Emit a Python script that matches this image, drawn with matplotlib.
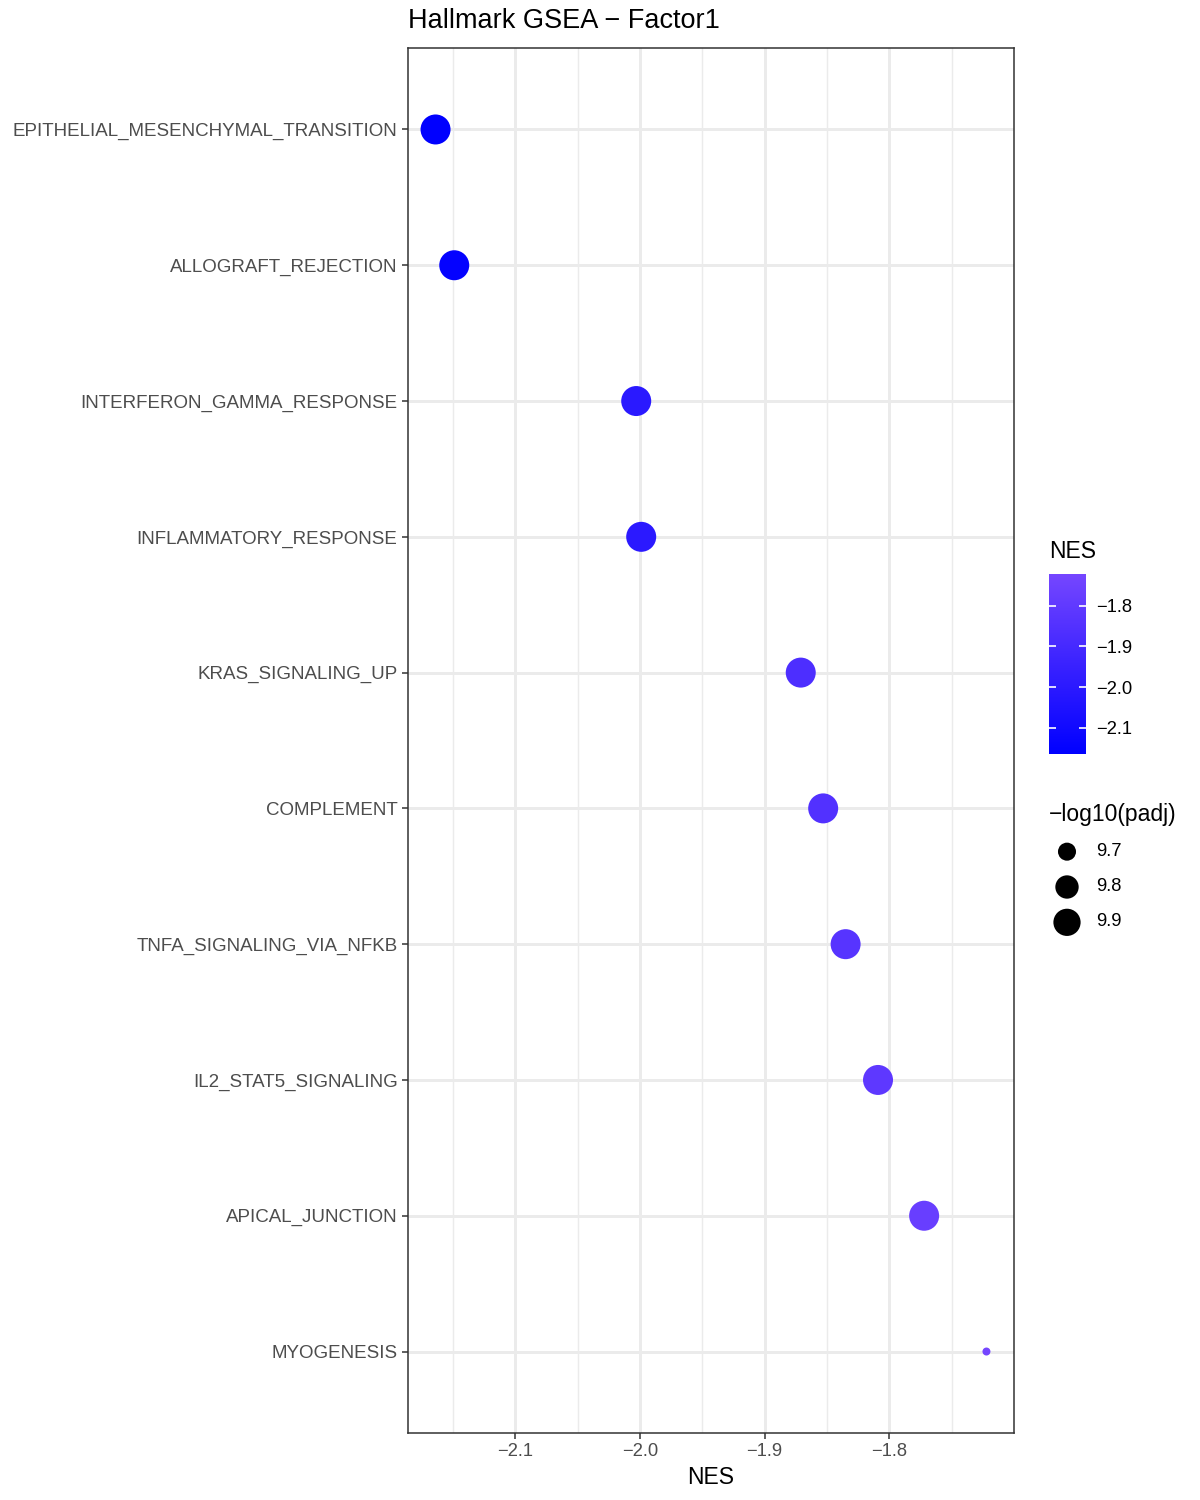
import numpy as np
import matplotlib; matplotlib.use('Agg')
import matplotlib.pyplot as plt
from matplotlib.colors import LinearSegmentedColormap, Normalize
from matplotlib.cm import ScalarMappable

plt.rcParams['font.family'] = ['Liberation Sans', 'DejaVu Sans']

# data, top to bottom
pathways = ['EPITHELIAL_MESENCHYMAL_TRANSITION', 'ALLOGRAFT_REJECTION',
            'INTERFERON_GAMMA_RESPONSE', 'INFLAMMATORY_RESPONSE',
            'KRAS_SIGNALING_UP', 'COMPLEMENT', 'TNFA_SIGNALING_VIA_NFKB',
            'IL2_STAT5_SIGNALING', 'APICAL_JUNCTION', 'MYOGENESIS']
nes = [-2.164, -2.149, -2.003, -1.999, -1.871, -1.853, -1.835, -1.809, -1.772, -1.722]
neglog_padj = [9.985, 9.985, 9.985, 9.985, 9.985, 9.985, 9.985, 9.985, 9.985, 9.625]
size_breaks = [9.7, 9.8, 9.9]
nes_ticks = [-2.1, -2.0, -1.9, -1.8]

W, H = 1200, 1500
fig = plt.figure(figsize=(12, 15), dpi=100)

def fx(x):
    return x / W

def fy(y):
    return 1 - y / H

nes = np.array(nes)
pv = np.array(neglog_padj)
smin, smax = pv.min(), pv.max()

# ggplot-like area scale: size 1..6 -> marker diameter in px
def diam_px(v):
    t = np.clip((np.asarray(v) - smin) / (smax - smin), 0, 1)
    size = 1 + 5 * np.sqrt(t)
    return 4.4 * size + 3.6

def s_of(v):
    return (diam_px(v) * 0.72) ** 2

cmap = LinearSegmentedColormap.from_list('nes', ['#0000FF', '#3A22FF', '#7546FF'])
norm = Normalize(vmin=nes.min(), vmax=nes.max())

ax = fig.add_axes([fx(408), fy(1433), fx(1014 - 408), (1433 - 48) / H])
ypos = np.arange(len(pathways))
xr = nes.max() - nes.min()
ax.set_xlim(nes.min() - 0.05 * xr, nes.max() + 0.05 * xr)
ax.set_ylim(len(pathways) - 1 + 0.6, -0.6)

# grid
for v in nes_ticks:
    ax.axvline(v, color='#EBEBEB', lw=2.1, zorder=0)
for v in [-2.15, -2.05, -1.95, -1.85, -1.75]:
    ax.axvline(v, color='#EBEBEB', lw=1.05, zorder=0)
for y in ypos:
    ax.axhline(y, color='#EBEBEB', lw=2.1, zorder=0)

ax.scatter(nes, ypos, s=s_of(pv), c=nes, cmap=cmap, norm=norm, linewidths=0, zorder=3)

ax.set_yticks(ypos)
ax.set_yticklabels(pathways)
ax.set_xticks(nes_ticks)
ax.set_xticklabels([f'{v:.1f}'.replace('-', '\u2212') for v in nes_ticks])
ax.tick_params(axis='both', labelsize=13.2, labelcolor='#4D4D4D', color='#333333',
               length=4, width=1.1, pad=3.5)
ax.tick_params(axis='y', labelsize=13.5)
for sp in ax.spines.values():
    sp.set_color('#333333')
    sp.set_linewidth(1.1)
ax.set_xlabel('NES', fontsize=16.5, labelpad=4)

fig.text(fx(408), fy(21), 'Hallmark GSEA \u2212 Factor1', fontsize=19.5, va='center', ha='left')

# colour bar
cax = fig.add_axes([fx(1049), fy(754), fx(1086 - 1049), (754 - 574) / H])
cb = fig.colorbar(ScalarMappable(norm=norm, cmap=cmap), cax=cax)
cb.outline.set_visible(False)
cb.set_ticks(nes_ticks)
cb.set_ticklabels([f'{v:.1f}'.replace('-', '\u2212') for v in nes_ticks])
cax.tick_params(axis='y', direction='in', color='white', length=5, width=1.2,
                left=True, right=True, labelsize=13.2, pad=7.5)
fig.text(fx(1049), fy(552), 'NES', fontsize=16.5, va='center', ha='left')

# size key
fig.text(fx(1049), fy(814), '\u2212log10(padj)', fontsize=16.5, va='center', ha='left')
kax = fig.add_axes([fx(1045), fy(940), fx(1090 - 1045), (940 - 834) / H])
kax.set_xlim(0, 1)
kax.set_ylim(len(size_breaks) - 0.5, -0.5)
kax.axis('off')
kx = np.full(len(size_breaks), 22 / 45)
kax.scatter(kx, np.arange(len(size_breaks)), s=s_of(size_breaks), color='black', linewidths=0)
for i, b in enumerate(size_breaks):
    fig.text(fx(1096), fy(851.7 + 35 * i), f'{b:.1f}', fontsize=13.2, va='center', ha='left')

fig.savefig('out.png', dpi=100)
